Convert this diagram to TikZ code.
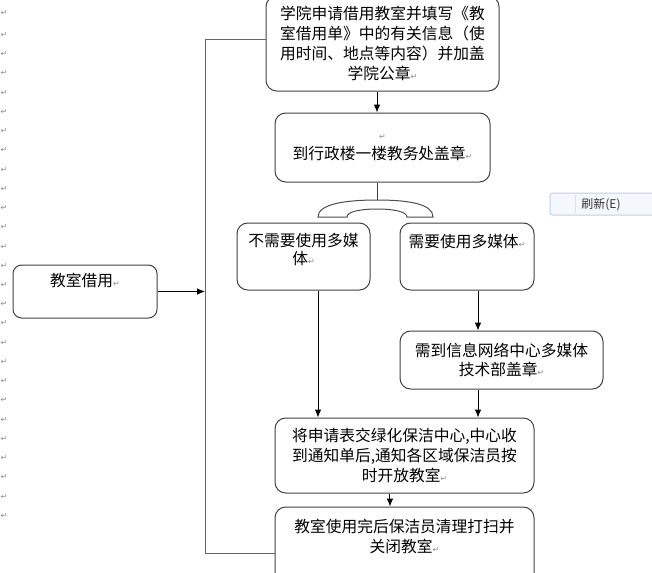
\documentclass[tikz,border=0pt]{standalone}
\usepackage{fontspec}
\setmainfont{Noto Sans CJK SC}
\newfontfamily\dejavu{DejaVu Sans}
\usepackage{tikz}
\usetikzlibrary{arrows.meta, positioning, calc}
\definecolor{btnfill}{HTML}{F4F7FB}
\definecolor{btnline}{HTML}{BCD0E8}
\newcommand{\pmk}{{\dejavu\fontsize{6}{6}\selectfont\textcolor{black!45}{↵}}}

\begin{document}
\begin{tikzpicture}[x=0.75pt, y=-0.75pt,
  box/.style={draw=black!75, line width=0.75pt, rounded corners=8pt, align=center,
              inner sep=0pt, font=\fontsize{11.8}{15}\selectfont},
  arr/.style={-{Latex[length=6pt,width=5pt]}, line width=0.75pt},
  ln/.style={line width=0.75pt}]
  \clip (0,0) rectangle (652,572);

  % paragraph marks down the left margin
  \node[inner sep=0pt] (pmtop) at (4,13) {\pmk};
  \foreach \i in {0,...,25}{
    \node[inner sep=0pt] (pm\i) at (4,{35+19.23*\i}) {\pmk};
  }

  % boxes
  \node[box, minimum width=174.75pt, minimum height=71.25pt] (apply) at (382.5,43.5)
    {学院申请借用教室并填写《教\\室借用单》中的有关信息（使\\用时间、地点等内容）并加盖\\学院公章\pmk};
  \node[box, minimum width=161.25pt, minimum height=51.75pt] (stamp) at (382.5,147.5)
    {\pmk\\到行政楼一楼教务处盖章\pmk};
  \node[box, minimum width=99.75pt, minimum height=50.25pt,
        font=\fontsize{11.8}{13.5}\selectfont] (nomm) at (303.5,256.5)
    {不需要使用多媒\\体\pmk\\[-6pt]\strut};
  \node[box, minimum width=100.5pt, minimum height=50.25pt,
        font=\fontsize{11.8}{13.5}\selectfont] (mm) at (467,256.5)
    {需要使用多媒体\pmk\\\strut\\[-7pt]\strut};
  \node[box, minimum width=152.25pt, minimum height=43.5pt,
        font=\fontsize{11.8}{14.25}\selectfont] (net) at (501.5,360)
    {需到信息网络中心多媒体\\技术部盖章\pmk};
  \node[box, minimum width=194.25pt, minimum height=56.25pt] (clean) at (404.5,455.5)
    {将申请表交绿化保洁中心,中心收\\到通知单后,通知各区域保洁员按\\时开放教室\pmk};
  \node[box, minimum width=194.25pt, minimum height=62.25pt] (close) at (404.5,548.5)
    {教室使用完后保洁员清理打扫并\\关闭教室\pmk\\\strut};
  \node[box, rounded corners=6.5pt, minimum width=108pt, minimum height=39.75pt] (borrow) at (85,291.5)
    {教室借用\pmk\\[-2pt]\strut};

  % left trunk
  \coordinate (ttop) at (205,39);
  \coordinate (tbot) at (205,553);
  \draw[ln, black!60] (ttop -| apply.west) -- (ttop) -- (tbot) -- (tbot -| close.west);
  \draw[arr] (borrow.east) -- (borrow.east -| ttop);

  % main column
  \coordinate (hub) at (377,200);
  \draw[arr] (hub |- apply.south) -- (hub |- stamp.north);
  \draw[ln, black!75] (hub |- stamp.south) -- (hub);
  \filldraw[ln, fill=white, draw=black!70] (318,217) .. controls (318,204) and (345,200) .. (hub)
    .. controls (409,200) and (433,204) .. (433,217) -- (407,217)
    .. controls (407,212) and (395,209) .. (377,209)
    .. controls (359,209) and (347,212) .. (347,217) -- cycle;

  % branches
  \coordinate (lx) at (318,0);
  \coordinate (rx) at (478,0);
  \draw[arr] (lx |- nomm.south) -- (lx |- clean.north);
  \draw[arr] (rx |- mm.south) -- (rx |- net.north);
  \draw[arr] (rx |- net.south) -- (rx |- clean.north);
  \draw[arr] ([xshift=-10.9pt]clean.south) -- ([xshift=-10.9pt]close.north);

  % context menu item
  \node[draw=btnline, fill=btnfill, rounded corners=2pt, line width=0.75pt,
        minimum width=86.25pt, minimum height=16.5pt, inner sep=0pt] (refresh) at (607.5,204) {};
  \draw[btnline!60, line width=0.75pt] (575,195) -- (575,213);
  \node[font=\fontsize{9}{9}\selectfont, text=black!80, inner sep=0pt] (refreshtxt) at (601,204.5) {刷新(E)};
\end{tikzpicture}
\end{document}
